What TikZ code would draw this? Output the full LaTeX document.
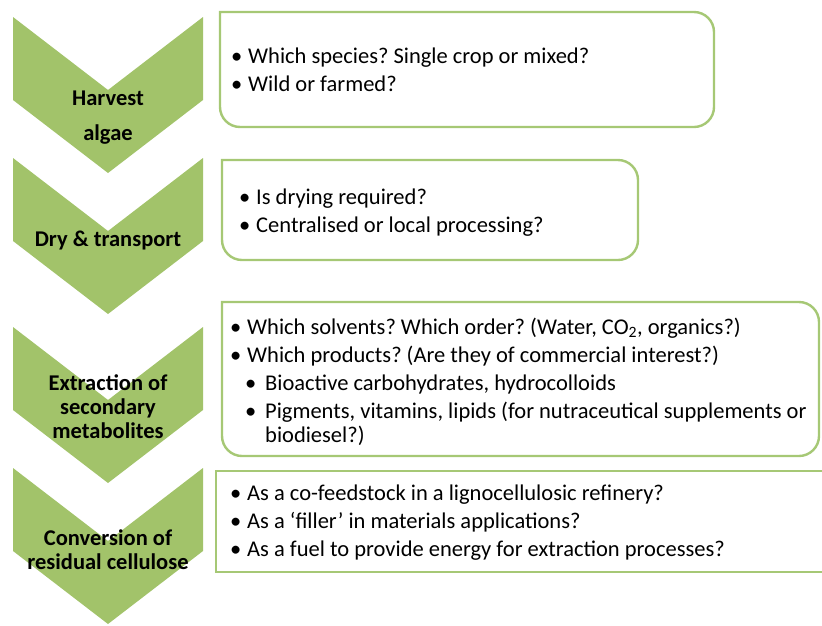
\documentclass[tikz,border=0pt]{standalone}
\usepackage{fontspec}
\setmainfont{Carlito}
\usetikzlibrary{positioning}
\definecolor{algaegreen}{HTML}{A2C36A}
\definecolor{boxgreen}{HTML}{A6C875}
\newcommand{\qitem}{\makebox[17pt][l]{\textbullet}}
\newcommand{\qsub}{\hspace*{15pt}\makebox[20pt][l]{\textbullet}}
\frenchspacing

\begin{document}
\begin{tikzpicture}[x=1pt,y=-1pt,
	chev/.style={fill=algaegreen,draw=none},
	stage/.style={font=\bfseries\fontsize{22.5}{24}\selectfont,align=center,inner sep=0pt},
	qbox/.style={draw=boxgreen,line width=2.4pt,fill=white},
	qtext/.style={font=\fontsize{22.5}{24}\selectfont,align=left,anchor=north west,inner sep=0pt}]
	\useasboundingbox (0,0) rectangle (822,625);
	% chevrons
	\foreach \t in {17,158,327,468}
		\fill[chev] (13,\t) -- (108,\t+73) -- (203,\t) -- (203,\t+83) -- (108,\t+156) -- (13,\t+83) -- cycle;
	\node [stage] (harvest) at (108,118) {Harvest\\[11pt]algae};
	\node [stage] (dry) at (108,240) {Dry \& transport};
	\node [stage] (extract) at (108,407) {Extraction of\\secondary\\metabolites};
	\node [stage] (convert) at (108,550) {Conversion of\\residual cellulose};
	% question boxes
	\draw[qbox] (220,12) [rounded corners=20pt] -- (714,12) -- (714,127) -- (220,127) [sharp corners] -- cycle;
	\draw[qbox] (222,160) [rounded corners=20pt] -- (638,160) -- (638,260) -- (222,260) [sharp corners] -- cycle;
	\draw[qbox] (222,302) [rounded corners=20pt] -- (819,302) -- (819,456) -- (222,456) [sharp corners] -- cycle;
	\draw[qbox] (216,471) -- (840,471) -- (840,572) -- (216,572) -- cycle;
	\node [qtext] (q1) at (231,48) {\qitem Which species? Single crop or mixed?\\[4pt]
		\qitem Wild or farmed?};
	\node [qtext] (q2) at (239,189) {\qitem Is drying required?\\[4pt]
		\qitem Centralised or local processing?};
	\node [qtext] (q3) at (230,318) {\qitem Which solvents? Which order? (Water, CO\textsubscript{2}, organics?)\\[4pt]
		\qitem Which products? (Are they of commercial interest?)\\[4pt]
		\qsub Bioactive carbohydrates, hydrocolloids\\[4pt]
		\qsub Pigments, vitamins, lipids (for nutraceutical supplements or\\
		\hspace*{35pt}biodiesel?)};
	\node [qtext] (q4) at (230,485) {\qitem As a co-feedstock in a lignocellulosic refinery?\\[4pt]
		\qitem As a `filler' in materials applications?\\[4pt]
		\qitem As a fuel to provide energy for extraction processes?};
\end{tikzpicture}
\end{document}
